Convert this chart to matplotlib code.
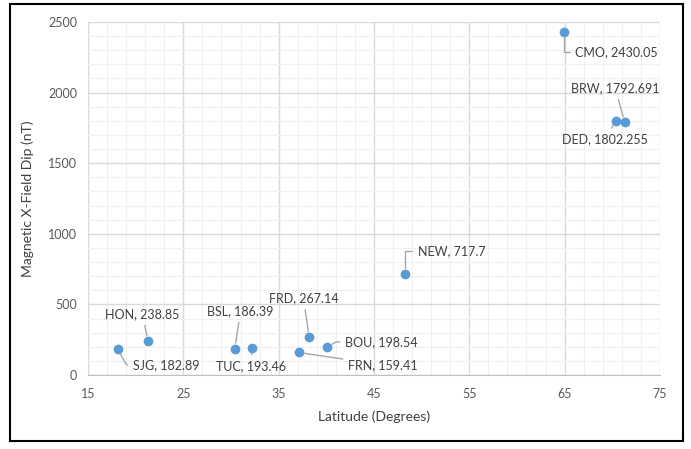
import matplotlib.pyplot as plt
from matplotlib.patches import Rectangle
from matplotlib.ticker import MultipleLocator
import numpy as np

# station data
stations = ['SJG', 'HON', 'BSL', 'TUC', 'FRN', 'FRD', 'BOU', 'NEW', 'CMO', 'DED', 'BRW']
latitude = [18.1, 21.3, 30.4, 32.2, 37.1, 38.2, 40.1, 48.3, 64.9, 70.4, 71.3]
x_dip = [182.89, 238.85, 186.39, 193.46, 159.41, 267.14, 198.54, 717.7, 2430.05, 1802.255, 1792.691]
label_text = ['182.89', '238.85', '186.39', '193.46', '159.41', '267.14', '198.54', '717.7',
              '2430.05', '1802.255', '1792.691']

# label placement (data coords), alignment, leader style
label_pos = {
    'SJG': (19.7, 71, 'left', 'angle,angleA=0,angleB=120,rad=0'),
    'HON': (20.7, 432, 'center', None),
    'BSL': (31.0, 453, 'center', None),
    'TUC': (32.1, 62, 'center', None),
    'FRN': (42.3, 71, 'left', None),
    'FRD': (37.6, 545, 'center', None),
    'BOU': (42.0, 234, 'left', 'angle,angleA=0,angleB=30,rad=0'),
    'NEW': (49.6, 878, 'left', 'angle,angleA=0,angleB=90,rad=0'),
    'CMO': (66.1, 2288, 'left', 'angle,angleA=0,angleB=90,rad=0'),
    'DED': (69.2, 1671, 'center', None),
    'BRW': (70.3, 2033, 'center', None),
}

plt.rcParams['font.family'] = ['Lato', 'DejaVu Sans']

fig = plt.figure(figsize=(6.91, 4.49), dpi=100)
ax = fig.add_axes([0.1274, 0.1648, 0.8276, 0.7862])

ax.scatter(latitude, x_dip, s=36, color='#5B9BD5', zorder=3)

for name, lat, val, txt in zip(stations, latitude, x_dip, label_text):
    tx, ty, ha, conn = label_pos[name]
    props = dict(arrowstyle='-', color='#a6a6a6', lw=1, shrinkA=2, shrinkB=4)
    if conn:
        props['connectionstyle'] = conn
    ax.annotate(f'{name}, {txt}', xy=(lat, val), xytext=(tx, ty), ha=ha, va='center',
                fontsize=9, color='#404040', arrowprops=props)

ax.set_xlim(15, 75)
ax.set_ylim(0, 2500)
ax.set_xticks(np.arange(15, 76, 10))
ax.set_xticks(np.arange(15, 76, 2), minor=True)
ax.yaxis.set_major_locator(MultipleLocator(500))
ax.yaxis.set_minor_locator(MultipleLocator(100))
ax.grid(which='major', color='#d9d9d9', lw=1)
ax.grid(which='minor', color='#f0f0f0', lw=0.8)
ax.set_axisbelow(True)
for s in ['top', 'right', 'left']:
    ax.spines[s].set_visible(False)
ax.spines['bottom'].set_color('#bfbfbf')
ax.tick_params(which='both', length=0, labelsize=9, labelcolor='#595959')
ax.tick_params(axis='x', pad=9)
ax.tick_params(axis='y', pad=8)

ax.set_xlabel('Latitude (Degrees)', fontsize=10, color='#404040', labelpad=8)
ax.set_ylabel('Magnetic X-Field Dip (nT)', fontsize=10, color='#404040', labelpad=10)

fig.patches.append(Rectangle((0.0145, 0.0178), 0.974, 0.973, transform=fig.transFigure,
                             fill=False, edgecolor='black', lw=1.5))

fig.savefig('out.png', dpi=100)
